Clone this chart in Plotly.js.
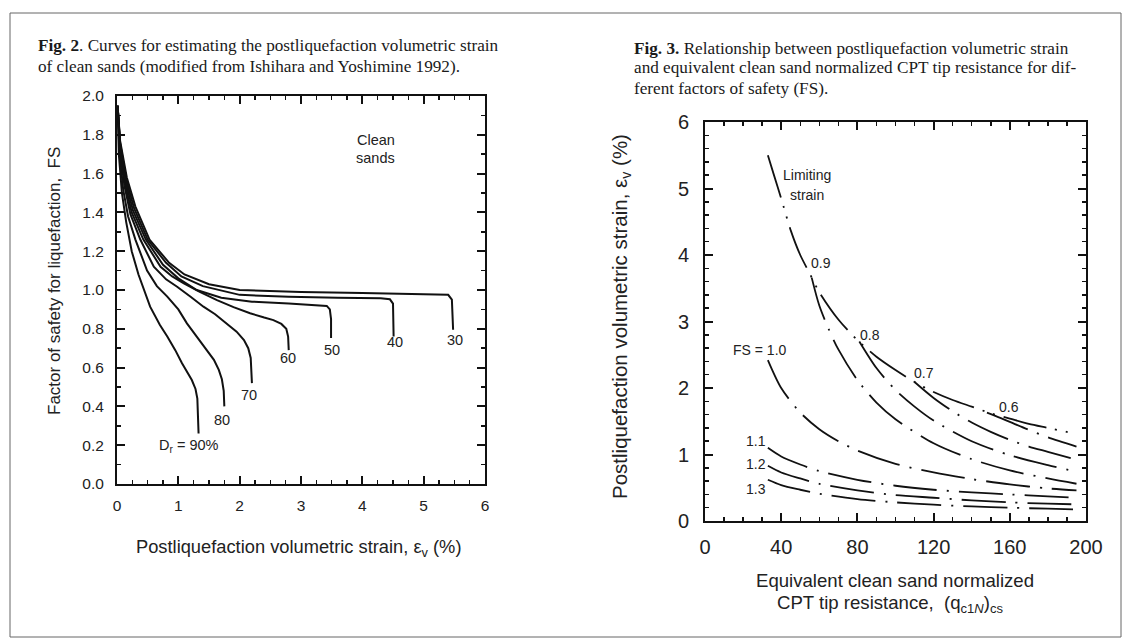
<!DOCTYPE html>
<html>
<head>
<meta charset="utf-8">
<script src="https://cdn.plot.ly/plotly-3.0.1.min.js"></script>
<style>
  html, body { margin: 0; padding: 0; background: #ffffff; }
  #chart { width: 1131px; height: 644px; }
</style>
</head>
<body>
<div id="chart"></div>
<script>
// ---------- Fig. 2: factor of safety vs. postliquefaction volumetric strain ----------
// one curve per relative density Dr (%), strain in %, FS dimensionless
const dr30Strain = [0.01, 0.05, 0.16, 0.30, 0.53, 0.85, 1.10, 1.50, 2.00, 3.00, 4.00, 5.00, 5.40, 5.46, 5.48];
const dr30FS     = [1.95, 1.77, 1.58, 1.43, 1.26, 1.14, 1.08, 1.03, 1.00, 0.99, 0.985, 0.98, 0.975, 0.95, 0.795];

const dr40Strain = [0.01, 0.05, 0.15, 0.28, 0.50, 0.80, 1.05, 1.40, 2.00, 2.80, 3.60, 4.30, 4.45, 4.50, 4.51];
const dr40FS     = [1.95, 1.76, 1.57, 1.42, 1.26, 1.14, 1.07, 1.02, 0.975, 0.965, 0.96, 0.957, 0.952, 0.93, 0.76];

const dr50Strain = [0.01, 0.05, 0.14, 0.26, 0.47, 0.75, 1.00, 1.30, 1.70, 2.20, 2.80, 3.20, 3.42, 3.47, 3.49, 3.49];
const dr50FS     = [1.95, 1.75, 1.56, 1.41, 1.26, 1.13, 1.06, 1.00, 0.96, 0.94, 0.93, 0.924, 0.918, 0.90, 0.85, 0.752];

const dr60Strain = [0.01, 0.05, 0.13, 0.24, 0.43, 0.71, 0.90, 1.09, 1.35, 1.63, 1.90, 2.17, 2.40, 2.55, 2.68, 2.76, 2.79, 2.80];
const dr60FS     = [1.95, 1.74, 1.55, 1.40, 1.26, 1.12, 1.07, 1.034, 0.99, 0.948, 0.912, 0.88, 0.858, 0.845, 0.825, 0.80, 0.76, 0.69];

const dr70Strain = [0.01, 0.05, 0.12, 0.22, 0.38, 0.60, 0.80, 0.98, 1.20, 1.41, 1.60, 1.79, 1.95, 2.07, 2.14, 2.18, 2.19, 2.20];
const dr70FS     = [1.95, 1.73, 1.54, 1.39, 1.26, 1.12, 1.055, 1.017, 0.965, 0.914, 0.875, 0.828, 0.785, 0.742, 0.70, 0.65, 0.58, 0.52];

const dr80Strain = [0.01, 0.04, 0.10, 0.18, 0.30, 0.49, 0.65, 0.82, 1.00, 1.14, 1.30, 1.47, 1.58, 1.66, 1.71, 1.74, 1.75];
const dr80FS     = [1.95, 1.72, 1.52, 1.38, 1.26, 1.10, 1.02, 0.966, 0.90, 0.828, 0.76, 0.69, 0.64, 0.588, 0.54, 0.48, 0.40];

const dr90Strain = [0.01, 0.03, 0.08, 0.15, 0.24, 0.35, 0.54, 0.70, 0.82, 0.95, 1.06, 1.15, 1.22, 1.28, 1.31, 1.32, 1.33];
const dr90FS     = [1.95, 1.70, 1.50, 1.35, 1.20, 1.08, 0.914, 0.82, 0.76, 0.69, 0.622, 0.575, 0.536, 0.49, 0.44, 0.35, 0.26];

const densityLabels = ['30', '40', '50', '60', '70', '80', 'D<sub>r</sub> = 90%'];

// ---------- Fig. 3: volumetric strain vs. equivalent clean sand CPT resistance ----------
const limitQc     = [33, 36, 40, 45, 50, 55, 60, 70, 80, 90, 100, 110, 120, 130, 140, 150, 160, 170, 180, 195];
const limitStrain = [5.50, 5.22, 4.85, 4.37, 4.00, 3.72, 3.44, 3.03, 2.72, 2.47, 2.27, 2.09, 1.94, 1.82, 1.72, 1.62, 1.54, 1.46, 1.40, 1.31];

const fs09Qc     = [56, 60, 65, 70, 80, 90, 100, 120, 140, 160, 180, 195];
const fs09Strain = [3.66, 3.24, 2.88, 2.58, 2.12, 1.78, 1.53, 1.17, 0.93, 0.76, 0.64, 0.56];

const fs08Qc     = [81, 90, 100, 110, 120, 140, 160, 180, 195];
const fs08Strain = [2.70, 2.30, 1.97, 1.72, 1.51, 1.20, 0.99, 0.84, 0.74];

const fs07Qc     = [110, 120, 130, 140, 150, 160, 170, 180, 195];
const fs07Strain = [2.09, 1.85, 1.65, 1.48, 1.34, 1.22, 1.12, 1.04, 0.92];

const fs06Qc     = [148, 155, 160, 170, 180, 195];
const fs06Strain = [1.63, 1.55, 1.49, 1.37, 1.26, 1.12];

const fs10Qc     = [33, 40, 50, 60, 70, 80, 100, 120, 140, 160, 180, 195];
const fs10Strain = [2.42, 2.00, 1.63, 1.38, 1.20, 1.06, 0.86, 0.73, 0.63, 0.55, 0.49, 0.46];

const fs11Qc     = [33, 40, 50, 60, 80, 100, 120, 140, 160, 180, 195];
const fs11Strain = [1.10, 0.97, 0.85, 0.75, 0.62, 0.53, 0.47, 0.43, 0.40, 0.37, 0.35];

const fs12Qc     = [33, 40, 50, 60, 80, 100, 120, 140, 160, 180, 195];
const fs12Strain = [0.83, 0.73, 0.64, 0.56, 0.46, 0.39, 0.35, 0.31, 0.28, 0.26, 0.25];

const fs13Qc     = [33, 40, 50, 60, 80, 100, 120, 140, 160, 180, 195];
const fs13Strain = [0.62, 0.54, 0.47, 0.41, 0.33, 0.28, 0.245, 0.22, 0.20, 0.185, 0.175];

const fsLabels = ['Limiting', 'strain', '0.9', '0.8', '0.7', '0.6', 'FS = 1.0', '1.1', '1.2', '1.3'];

// ---------- drawing ----------
const W = 1131, H = 644;
const px = v => v / W;            // pixel column -> paper x
const py = v => 1 - v / H;        // pixel row -> paper y

const INK = '#111111';
const SANS = 'Liberation Sans, Arial, Helvetica, sans-serif';
const SERIF = 'Liberation Serif, Times New Roman, serif';

const solid = { color: INK, width: 2 };
const dashDot = { color: INK, width: 1.8, dash: '44px,10px,2px,10px', shape: 'spline', smoothing: 0.8 };
const dashDotDot = { color: INK, width: 1.8, dash: '44px,9px,2px,9px,2px,9px', shape: 'spline', smoothing: 0.8 };

function leftCurve(x, y) {
  return { x, y, xaxis: 'x', yaxis: 'y', mode: 'lines', line: solid, hoverinfo: 'skip', showlegend: false };
}
function rightCurve(x, y, line) {
  return { x, y, xaxis: 'x2', yaxis: 'y2', mode: 'lines', line, hoverinfo: 'skip', showlegend: false };
}

const traces = [
  leftCurve(dr30Strain, dr30FS),
  leftCurve(dr40Strain, dr40FS),
  leftCurve(dr50Strain, dr50FS),
  leftCurve(dr60Strain, dr60FS),
  leftCurve(dr70Strain, dr70FS),
  leftCurve(dr80Strain, dr80FS),
  leftCurve(dr90Strain, dr90FS),
  rightCurve(limitQc, limitStrain, dashDotDot),
  rightCurve(fs09Qc, fs09Strain, dashDot),
  rightCurve(fs08Qc, fs08Strain, dashDot),
  rightCurve(fs07Qc, fs07Strain, dashDot),
  rightCurve(fs06Qc, fs06Strain, dashDot),
  rightCurve(fs10Qc, fs10Strain, dashDot),
  rightCurve(fs11Qc, fs11Strain, dashDot),
  rightCurve(fs12Qc, fs12Strain, dashDot),
  rightCurve(fs13Qc, fs13Strain, dashDot)
];

function frameAxis(extra) {
  return Object.assign({
    showline: true, linecolor: INK, linewidth: 2, mirror: 'allticks',
    ticks: 'inside', ticklen: 8, tickwidth: 2, tickcolor: INK,
    showgrid: false, zeroline: false, fixedrange: true,
    tickfont: { family: SANS, size: 15.5, color: '#222' }
  }, extra);
}

// curve labels, placed in data coordinates
const leftLabelPos = [[5.51, 0.742], [4.53, 0.733], [3.50, 0.69], [2.78, 0.648], [2.16, 0.46], [1.71, 0.33], [1.17, 0.195]];
const rightLabelPos = [[53.8, 5.20], [53.8, 4.90], [60.8, 3.88], [86.4, 2.80], [115.0, 2.22], [159.5, 1.72], [29.0, 2.57], [27.0, 1.21], [27.0, 0.85], [27.0, 0.48]];

const annotations = [];
densityLabels.forEach((t, i) => annotations.push({
  xref: 'x', yref: 'y', x: leftLabelPos[i][0], y: leftLabelPos[i][1], text: t, showarrow: false,
  font: { family: SANS, size: 14.5, color: '#222' }
}));
annotations.push({ xref: 'x', yref: 'y', x: 4.22, y: 1.775, text: 'Clean', showarrow: false, font: { family: SANS, size: 14.5, color: '#222' } });
annotations.push({ xref: 'x', yref: 'y', x: 4.22, y: 1.68, text: 'sands', showarrow: false, font: { family: SANS, size: 14.5, color: '#222' } });
fsLabels.forEach((t, i) => annotations.push({
  xref: 'x2', yref: 'y2', x: rightLabelPos[i][0], y: rightLabelPos[i][1], text: t, showarrow: false,
  font: { family: SANS, size: 14, color: '#222' }
}));

// figure captions
function caption(text, x, y) {
  annotations.push({ xref: 'paper', yref: 'paper', x: px(x), y: py(y), xanchor: 'left', yanchor: 'middle',
    text, showarrow: false, align: 'left', font: { family: SERIF, size: 17.2, color: '#1a1a1a' } });
}
caption('<b>Fig. 2</b>. Curves for estimating the postliquefaction volumetric strain', 36, 46);
caption('of clean sands (modified from Ishihara and Yoshimine 1992).', 36, 66);
caption('<b>Fig. 3.</b> Relationship between postliquefaction volumetric strain', 632, 48);
caption('and equivalent clean sand normalized CPT tip resistance for dif-', 632, 68);
caption('ferent factors of safety (FS).', 632, 88);

// axis titles
function axisTitle(text, x, y, size, angle) {
  annotations.push({ xref: 'paper', yref: 'paper', x: px(x), y: py(y), xanchor: 'center', yanchor: 'middle',
    text, showarrow: false, textangle: angle || 0, font: { family: SANS, size, color: '#222' } });
}
axisTitle('Postliquefaction volumetric strain, ε<sub>v</sub> (%)', 298, 548, 18.3);
axisTitle('Factor of safety for liquefaction,  FS', 54, 281, 17, -90);
axisTitle('Postliquefaction volumetric strain, ε<sub>v</sub> (%)', 621, 317, 20.5, -90);
axisTitle('Equivalent clean sand normalized', 895, 580, 18.6);
axisTitle('CPT tip resistance,  (q<sub>c1<i>N</i></sub>)<sub>cs</sub>', 890, 604, 18.6);

const layout = {
  width: W, height: H,
  margin: { l: 0, r: 0, t: 0, b: 0 },
  paper_bgcolor: '#ffffff', plot_bgcolor: '#ffffff',
  showlegend: false,
  xaxis: frameAxis({ domain: [px(117), px(485)], range: [0, 6], tick0: 0, dtick: 1, anchor: 'y',
    ticklabelstandoff: 6,
    minor: { dtick: 0.25, ticks: 'inside', ticklen: 4, tickwidth: 1.5, tickcolor: INK, showgrid: false } }),
  yaxis: frameAxis({ domain: [py(484), py(96)], range: [0, 2], tick0: 0, dtick: 0.2, tickformat: '.1f', anchor: 'x',
    ticklabelstandoff: 8,
    minor: { dtick: 0.1, ticks: 'inside', ticklen: 4, tickwidth: 1.5, tickcolor: INK, showgrid: false } }),
  xaxis2: frameAxis({ domain: [px(705), px(1086)], range: [0, 200], tick0: 0, dtick: 40, anchor: 'y2',
    ticklabelstandoff: 7, tickfont: { family: SANS, size: 20, color: '#222' },
    minor: { dtick: 10, ticks: 'inside', ticklen: 4, tickwidth: 1.5, tickcolor: INK, showgrid: false } }),
  yaxis2: frameAxis({ domain: [py(521), py(122)], range: [0, 6], tick0: 0, dtick: 1, anchor: 'x2',
    ticklabelstandoff: 10, tickfont: { family: SANS, size: 20, color: '#222' },
    minor: { dtick: 0.2, ticks: 'inside', ticklen: 4, tickwidth: 1.5, tickcolor: INK, showgrid: false } }),
  annotations,
  shapes: [
    { type: 'rect', xref: 'paper', yref: 'paper', x0: px(10), x1: px(1121), y0: py(637), y1: py(13),
      line: { color: '#666666', width: 1 }, fillcolor: 'rgba(0,0,0,0)', layer: 'below' }
  ]
};

Plotly.newPlot('chart', traces, layout, { staticPlot: true, displayModeBar: false });
</script>
</body>
</html>
